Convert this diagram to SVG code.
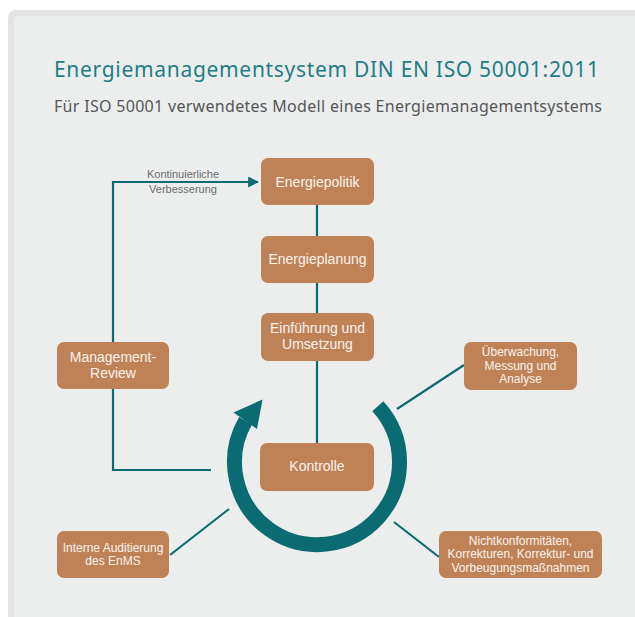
<svg xmlns="http://www.w3.org/2000/svg" width="635" height="617" viewBox="0 0 635 617">
  <defs>
    <style>
      .box { fill: #bf8256; }
      .lbl { font-family: "Liberation Sans", Arial, sans-serif; fill: #fbf3ec; text-anchor: middle; }
      .big { font-size: 14px; }
      .sm { font-size: 12px; }
      .conn { fill: none; stroke: #0d6b72; stroke-width: 2.2; }
      .note { font-family: "Liberation Sans", Arial, sans-serif; font-size: 11px; fill: #6a6c6e; text-anchor: middle; }
      .head { font-family: "Noto Sans", "Liberation Sans", Arial, sans-serif; }
    </style>
    <marker id="arrowhead" viewBox="0 0 10 10" refX="9" refY="5" markerWidth="5" markerHeight="5" orient="auto" markerUnits="strokeWidth">
      <path d="M0,0 L10,5 L0,10 z" fill="#0d6b72"/>
    </marker>
  </defs>

  <!-- page and panel -->
  <rect x="0" y="0" width="635" height="617" fill="#ffffff"/>
  <rect x="8" y="10" width="640" height="620" rx="8" fill="#e3e4e4"/>
  <rect x="14" y="16" width="630" height="610" rx="4" fill="#eceeed"/>

  <!-- heading -->
  <text class="head" x="54" y="77" font-size="21" fill="#1f7d85" textLength="545">Energiemanagementsystem DIN EN ISO 50001:2011</text>
  <text class="head" x="54" y="112" font-size="16" fill="#555658" textLength="548">Für ISO 50001 verwendetes Modell eines Energiemanagementsystems</text>

  <!-- connectors -->
  <g id="connectors">
    <path class="conn" d="M317,205 V236 M317,283 V313 M317,361 V443"/>
    <path class="conn" d="M113,342 V182 H258" marker-end="url(#arrowhead)"/>
    <path class="conn" d="M113,389 V470 H211"/>
    <path class="conn" d="M170,555 L229,509"/>
    <path class="conn" d="M464,365 L397,409"/>
    <path class="conn" d="M439,557 L394,522"/>
    <text class="note" x="183" y="178">Kontinuierliche</text>
    <text class="note" x="183" y="193">Verbesserung</text>
  </g>

  <!-- cycle arrow -->
  <g id="cycle">
    <path d="M377.8,406.3 A82.5,82.5 0 1 1 245.6,420.8" fill="none" stroke="#0b6b72" stroke-width="15"/>
    <path d="M262.5,399.5 L233.5,412.5 L257,429 z" fill="#0b6b72"/>
  </g>

  <g id="energiepolitik">
    <rect class="box" x="261" y="158" width="113" height="47" rx="7"/>
    <text class="lbl big" x="317.5" y="187">Energiepolitik</text>
  </g>
  <g id="energieplanung">
    <rect class="box" x="261" y="236" width="113" height="47" rx="7"/>
    <text class="lbl big" x="317.5" y="264">Energieplanung</text>
  </g>
  <g id="einfuehrung">
    <rect class="box" x="261" y="313" width="113" height="48" rx="7"/>
    <text class="lbl big" x="317.5" y="333">Einführung und</text>
    <text class="lbl big" x="317.5" y="349">Umsetzung</text>
  </g>
  <g id="kontrolle">
    <rect class="box" x="260" y="443" width="114" height="48" rx="7"/>
    <text class="lbl big" x="317" y="471">Kontrolle</text>
  </g>
  <g id="management-review">
    <rect class="box" x="57" y="342" width="112" height="47" rx="7"/>
    <text class="lbl big" x="113" y="362">Management-</text>
    <text class="lbl big" x="113" y="378">Review</text>
  </g>
  <g id="interne-auditierung">
    <rect class="box" x="57" y="531" width="112" height="47" rx="7"/>
    <text class="lbl sm" x="113" y="552">Interne Auditierung</text>
    <text class="lbl sm" x="113" y="565">des EnMS</text>
  </g>
  <g id="ueberwachung">
    <rect class="box" x="464" y="342" width="113" height="48" rx="7"/>
    <text class="lbl sm" x="520.5" y="356">Überwachung,</text>
    <text class="lbl sm" x="520.5" y="370">Messung und</text>
    <text class="lbl sm" x="520.5" y="383">Analyse</text>
  </g>
  <g id="nichtkonformitaeten">
    <rect class="box" x="439" y="531" width="163" height="47" rx="7"/>
    <text class="lbl sm" x="520.5" y="545">Nichtkonformitäten,</text>
    <text class="lbl sm" x="520.5" y="558">Korrekturen, Korrektur- und</text>
    <text class="lbl sm" x="520.5" y="572">Vorbeugungsmaßnahmen</text>
  </g>
</svg>
